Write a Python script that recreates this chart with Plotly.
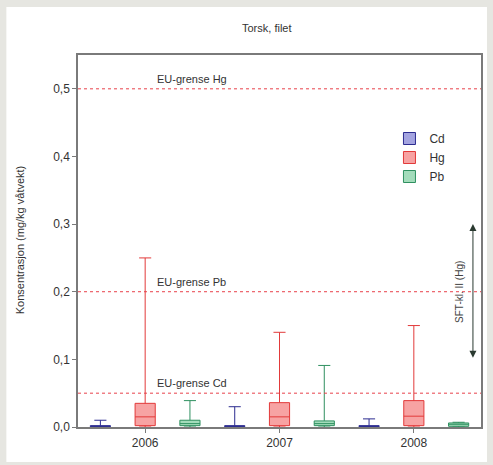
import plotly.graph_objects as go

years = ["2006", "2007", "2008"]

# Box statistics (mg/kg våtvekt)
cd_q1 = [0.0005, 0.0005, 0.0005]
cd_med = [0.001, 0.001, 0.001]
cd_q3 = [0.002, 0.002, 0.002]
cd_max = [0.010, 0.030, 0.012]

hg_q1 = [0.002, 0.002, 0.002]
hg_med = [0.015, 0.015, 0.016]
hg_q3 = [0.035, 0.036, 0.039]
hg_max = [0.250, 0.140, 0.150]

pb_q1 = [0.002, 0.002, 0.001]
pb_med = [0.005, 0.005, 0.004]
pb_q3 = [0.010, 0.009, 0.006]
pb_max = [0.039, 0.091, 0.007]

mins = [0.0, 0.0, 0.0]

limits = [0.5, 0.2, 0.05]
limit_labels = ["EU-grense Hg", "EU-grense Pb", "EU-grense Cd"]

series = [
    ("Cd", cd_q1, cd_med, cd_q3, cd_max, "#a4a4e0", "#2c2c90"),
    ("Hg", hg_q1, hg_med, hg_q3, hg_max, "#f7a3a3", "#e23a3a"),
    ("Pb", pb_q1, pb_med, pb_q3, pb_max, "#a3dcbb", "#2f9060"),
]

FONT = "Arial, Liberation Sans, sans-serif"

fig = go.Figure()
for name, q1, med, q3, mx, fill, line in series:
    fig.add_trace(go.Box(
        name=name, x=years, q1=q1, median=med, q3=q3,
        lowerfence=mins, upperfence=mx,
        fillcolor=fill, line=dict(color=line, width=1),
        whiskerwidth=0.6, boxpoints=False,
    ))

L, R, T, B = 78, 10, 55, 38
W, H = 493, 465
pw, ph = W - L - R, H - T - B

def px(xp):
    return (xp - L) / pw

def py(yp):
    return (H - B - yp) / ph

shapes = [dict(type="rect", xref="paper", yref="paper",
               x0=px(6), x1=px(489), y0=py(462), y1=py(7),
               fillcolor="white", line=dict(width=0), layer="below")]
for v in limits:
    shapes.append(dict(type="line", xref="paper", yref="y", x0=0, x1=1, y0=v, y1=v,
                       line=dict(color="#e8404a", width=1, dash="dot")))

annotations = []
for v, t in zip(limits, limit_labels):
    annotations.append(dict(x=px(155), y=v, xref="paper", yref="y", text=t,
                            showarrow=False, xanchor="left", yanchor="bottom", yshift=2,
                            font=dict(family=FONT, size=11, color="#333")))
annotations.append(dict(x=px(268), y=py(28), xref="paper", yref="paper", text="Torsk, filet",
                        showarrow=False, xanchor="center", yanchor="middle",
                        font=dict(family=FONT, size=11, color="#333")))
annotations.append(dict(x=px(20), y=py(240), xref="paper", yref="paper",
                        text="Konsentrasjon (mg/kg våtvekt)", textangle=-90,
                        showarrow=False, xanchor="center", yanchor="middle",
                        font=dict(family=FONT, size=11, color="#333")))
annotations.append(dict(x=2.44, y=0.3, ax=2.44, ay=0.1, xref="x", yref="y",
                        axref="x", ayref="y", text="", showarrow=True,
                        arrowside="end+start", arrowhead=2, arrowsize=1.4,
                        arrowwidth=1, arrowcolor="#2a3a30"))
annotations.append(dict(x=2.345, y=0.2, xref="x", yref="y", text="SFT-kl. II (Hg)",
                        textangle=-90, showarrow=False, xanchor="center", yanchor="middle",
                        font=dict(family=FONT, size=10, color="#444")))

fig.update_layout(
    width=W, height=H,
    margin=dict(l=L, r=R, t=T, b=B),
    paper_bgcolor="#e6e6e1", plot_bgcolor="white",
    boxmode="group", boxgap=0.0, boxgroupgap=0.55,
    separators=", ",
    font=dict(family=FONT, size=11, color="#333"),
    showlegend=True,
    legend=dict(x=px(391), y=py(124), xanchor="left", yanchor="top",
                bgcolor="rgba(0,0,0,0)", font=dict(size=12, color="#333")),
    shapes=shapes, annotations=annotations,
)
fig.update_xaxes(type="category", range=[-0.5, 2.5], showline=True, mirror=True,
                 linecolor="#7a7a7a", linewidth=1.5, ticks="outside", ticklen=4,
                 tickcolor="#7a7a7a", showgrid=False, zeroline=False,
                 tickfont=dict(size=12, color="#333"))
fig.update_yaxes(range=[0, 0.55], tickvals=[0, 0.1, 0.2, 0.3, 0.4, 0.5], tickformat=".1f",
                 showline=True, mirror=True, linecolor="#7a7a7a", linewidth=1.5,
                 ticks="outside", ticklen=4, tickcolor="#7a7a7a", showgrid=False,
                 zeroline=False, tickfont=dict(size=12, color="#333"))

fig.write_html("out.html", config={"displayModeBar": False},
               post_script="document.body.style.margin='0';document.body.style.overflow='hidden';")
